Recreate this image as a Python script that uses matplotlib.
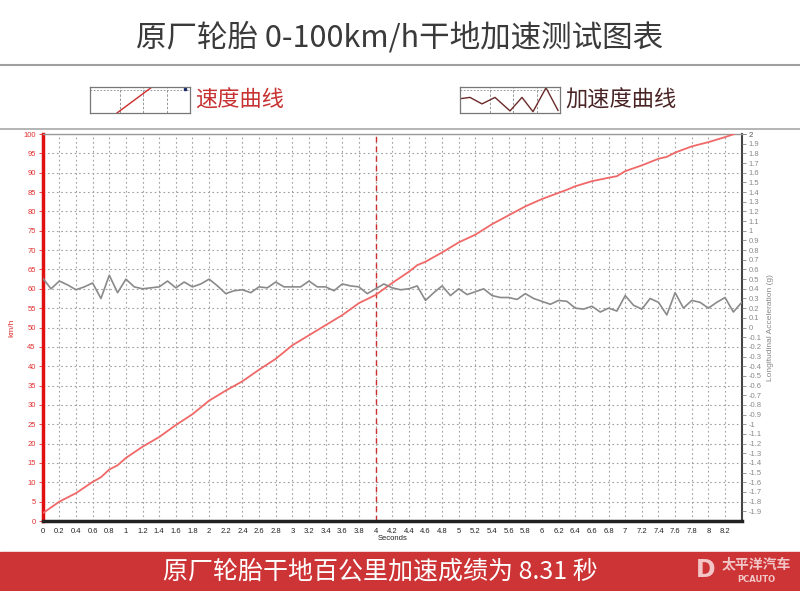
import matplotlib
matplotlib.use("Agg")
import matplotlib.pyplot as plt
from matplotlib.lines import Line2D
from matplotlib.patches import Rectangle

plt.rcParams['font.family'] = ['Noto Sans CJK SC', 'DejaVu Sans']

# speed curve (km/h)
speed_time = [0, 0.2, 0.4, 0.6, 0.7, 0.8, 0.9, 1.0, 1.2, 1.4, 1.6, 1.8, 2.0, 2.2, 2.4,
              2.6, 2.8, 3.0, 3.2, 3.4, 3.6, 3.8, 4.0, 4.2, 4.4, 4.5, 4.6, 4.8, 5.0, 5.2,
              5.4, 5.6, 5.8, 6.0, 6.2, 6.3, 6.4, 6.6, 6.8, 6.9, 7.0, 7.2, 7.4, 7.5, 7.6,
              7.8, 8.0, 8.2, 8.31]
speed_kmh = [2.0, 5.0, 7.2, 10.1, 11.3, 13.3, 14.4, 16.3, 19.2, 21.7, 24.8, 27.6, 31.1,
             33.7, 36.1, 39.1, 41.9, 45.4, 48.0, 50.6, 53.2, 56.3, 58.4, 61.5, 64.4, 66.1,
             67.0, 69.4, 72.0, 74.0, 76.7, 79.0, 81.3, 83.2, 84.8, 85.6, 86.5, 87.8, 88.7,
             89.1, 90.4, 91.9, 93.6, 94.1, 95.2, 96.8, 97.9, 99.2, 100.0]

# longitudinal acceleration (g)
accel_time = [0.0, 0.1, 0.2, 0.3, 0.4, 0.5, 0.6, 0.7, 0.8, 0.9, 1.0, 1.1, 1.2, 1.3, 1.4,
              1.5, 1.6, 1.7, 1.8, 1.9, 2.0, 2.1, 2.2, 2.3, 2.4, 2.5, 2.6, 2.7, 2.8, 2.9,
              3.0, 3.1, 3.2, 3.3, 3.4, 3.5, 3.6, 3.7, 3.8, 3.9, 4.0, 4.1, 4.2, 4.3, 4.4,
              4.5, 4.6, 4.7, 4.8, 4.9, 5.0, 5.1, 5.2, 5.3, 5.4, 5.5, 5.6, 5.7, 5.8, 5.9,
              6.0, 6.1, 6.2, 6.3, 6.4, 6.5, 6.6, 6.7, 6.8, 6.9, 7.0, 7.1, 7.2, 7.3, 7.4,
              7.5, 7.6, 7.7, 7.8, 7.9, 8.0, 8.1, 8.2, 8.3, 8.4]
accel_g = [0.51, 0.40, 0.48, 0.44, 0.39, 0.42, 0.46, 0.30, 0.54, 0.36, 0.50, 0.42, 0.40,
           0.41, 0.42, 0.48, 0.41, 0.47, 0.42, 0.45, 0.50, 0.43, 0.35, 0.38, 0.39, 0.36,
           0.42, 0.41, 0.47, 0.42, 0.42, 0.42, 0.48, 0.42, 0.42, 0.38, 0.45, 0.43, 0.42,
           0.35, 0.40, 0.45, 0.41, 0.39, 0.40, 0.43, 0.28, 0.36, 0.43, 0.33, 0.40, 0.34,
           0.37, 0.40, 0.33, 0.31, 0.31, 0.29, 0.35, 0.30, 0.27, 0.24, 0.28, 0.27, 0.20,
           0.19, 0.22, 0.16, 0.20, 0.17, 0.33, 0.23, 0.19, 0.30, 0.26, 0.13, 0.36, 0.20,
           0.28, 0.26, 0.20, 0.26, 0.31, 0.16, 0.26]

x_ticks = [round(0.2 * i, 1) for i in range(42)]
speed_ticks = list(range(0, 101, 5))
accel_ticks = [round(-1.9 + 0.1 * i, 1) for i in range(40)]

title = "原厂轮胎 0-100km/h干地加速测试图表"
result_text = "原厂轮胎干地百公里加速成绩为 8.31 秒"
mark_time = 4.0

W, H = 800, 591
fig = plt.figure(figsize=(8, 5.91), dpi=100)

# header
fig.text(0.5, 1 - 38 / H, title, ha='center', va='center', fontsize=22,
         color='#3a3a3a', fontweight='light')
fig.add_artist(Line2D([0, 1], [1 - 65 / H] * 2, transform=fig.transFigure,
                      color='#a0a0a0', lw=1.5))
fig.add_artist(Line2D([0, 1], [1 - 129 / H] * 2, transform=fig.transFigure,
                      color='#a8a8a8', lw=1.2))

# legend icons
def legend_box(x0, kind):
    lax = fig.add_axes([x0 / W, 1 - 113 / H, 100 / W, 26 / H])
    lax.set_xlim(0, 1)
    lax.set_ylim(0, 1)
    lax.set_xticks([])
    lax.set_yticks([])
    for s in lax.spines.values():
        s.set_color('#777777')
        s.set_linewidth(0.9)
    for vx in (0.3, 0.53, 0.77):
        lax.axvline(vx, color='#888888', lw=0.6, ls=(0, (3, 2)))
    lax.axhline(0.9, color='#888888', lw=0.6, ls=(0, (2, 2)))
    if kind == 'speed':
        lax.plot([0.27, 0.62], [0.0, 1.0], color='#cc2b2b', lw=1)
        lax.plot([0.95], [0.93], 's', color='#1a2a6a', ms=2)
    else:
        lax.plot([0.0, 0.1, 0.22, 0.35, 0.5, 0.62, 0.73, 0.86, 0.98],
                 [0.55, 0.6, 0.35, 0.6, 0.08, 0.6, 0.05, 0.97, 0.1],
                 color='#6b2a2a', lw=1)

legend_box(90, 'speed')
fig.text(195 / W, 1 - 100 / H, "速度曲线", ha='left', va='center', fontsize=16,
         color='#c83232')
legend_box(460, 'accel')
fig.text(565 / W, 1 - 100 / H, "加速度曲线", ha='left', va='center', fontsize=16,
         color='#4a2424')

# main chart
ax = fig.add_axes([42.7 / W, 1 - 521 / H, 699 / W, 387 / H])
ax.set_xlim(0, 8.4)
ax.set_ylim(0, 100)
ax.set_xticks(x_ticks)
ax.set_xticklabels([f"{v:g}" for v in x_ticks], fontsize=5.5, color='#222222',
                   family='Liberation Sans')
ax.set_yticks(speed_ticks)
ax.set_yticklabels([str(v) for v in speed_ticks], fontsize=5.5, color='#e03030',
                   family='Liberation Sans')
ax.tick_params(axis='y', colors='#e03030', length=3, width=0.6, pad=2)
ax.tick_params(axis='x', length=0, pad=5)
for lbl in ax.get_xticklabels():
    lbl.set_color('#222222')
ax.grid(True, color='#a0a0a0', lw=0.8, ls=(0, (1.5, 2.5)))
ax.set_axisbelow(True)

ax.spines['left'].set_color('#e01010')
ax.spines['left'].set_linewidth(2.5)
ax.spines['bottom'].set_color('#222222')
ax.spines['bottom'].set_linewidth(2.5)
ax.spines['top'].set_color('#999999')
ax.spines['top'].set_linewidth(1)
ax.spines['right'].set_color('#444444')
ax.spines['right'].set_linewidth(1.5)

ax.axvline(mark_time, color='#cc3030', lw=1, ls=(0, (4, 3)))
ax.plot(speed_time, speed_kmh, color='#f06868', lw=1.3, zorder=4)

ax.set_xlabel("Seconds", fontsize=5.5, color='#222222', family='Liberation Sans',
              labelpad=0)
ax.set_ylabel("km/h", fontsize=6, color='#e03030', family='Liberation Sans',
              labelpad=6)

ax2 = ax.twinx()
ax2.set_ylim(-2, 2)
ax2.set_yticks(accel_ticks + [2.0])
ax2.set_yticklabels([f"{v:g}" for v in accel_ticks] + ["2"], fontsize=5.5,
                    color='#888888', family='Liberation Sans')
ax2.tick_params(axis='y', colors='#888888', length=3, width=0.6, pad=2)
for lbl in ax2.get_yticklabels():
    lbl.set_color('#888888')
for s in ax2.spines.values():
    s.set_visible(False)
ax2.plot(accel_time, accel_g, color='#8a8a8a', lw=1.2, zorder=3)
ax2.set_ylabel("Longitudinal Acceleration (g)", fontsize=6, color='#888888',
               family='Liberation Sans', labelpad=4)

# result banner
fig.patches.append(Rectangle((0, 0), 1, 39 / H, transform=fig.transFigure,
                             color='#cd3436', zorder=0))
fig.text(380 / W, 19.5 / H, result_text, ha='center', va='center', fontsize=18,
         color='white')
fig.text(706 / W, 21 / H, "D", ha='center', va='center', fontsize=17,
         color='#f2c6c6', fontweight='bold', family='DejaVu Sans')
fig.text(756 / W, 27 / H, "太平洋汽车", ha='center', va='center', fontsize=10,
         color='#f2c6c6', fontweight='bold')
fig.text(756 / W, 11 / H, "PCAUTO", ha='center', va='center', fontsize=6,
         color='#f2c6c6', family='DejaVu Sans', fontweight='bold')

fig.savefig("out.png", dpi=100)
